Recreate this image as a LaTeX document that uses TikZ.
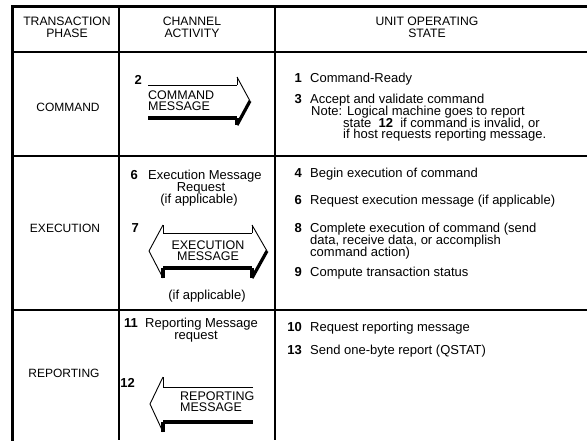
\documentclass[tikz,border=0pt]{standalone}
\usepackage{fontspec}
\setmainfont{Liberation Sans}
\usepackage{tikz}
\pgfdeclarelayer{edgelayer}
\pgfdeclarelayer{nodelayer}
\pgfsetlayers{edgelayer,nodelayer,main}
\tikzstyle{none}=[inner sep=0pt]
\tikzstyle{Header Text}=[align=center, inner sep=0pt, font=\fontsize{12.2}{11.6}\selectfont]
\tikzstyle{Phase Text}=[inner sep=0pt, text height=8.6pt, text depth=0pt, font=\fontsize{12}{11}\selectfont]
\tikzstyle{Step Number}=[anchor=east, inner sep=0pt, text height=9.3pt, text depth=0pt, font=\fontsize{13}{11.7}\selectfont\bfseries]
\tikzstyle{Body Text}=[anchor=west, inner sep=0pt, text height=9.3pt, text depth=0pt, font=\fontsize{13}{11.7}\selectfont]
\tikzstyle{Centred Text}=[inner sep=0pt, text height=9.3pt, text depth=0pt, font=\fontsize{13}{11.7}\selectfont]
\tikzstyle{Arrow Text}=[align=left, inner sep=0pt, font=\fontsize{12.5}{11.2}\selectfont]
\tikzstyle{Frame Rule}=[-, draw=black, line width=3pt, line cap=rect]
\tikzstyle{Row Rule}=[-, draw=black, line width=1.7pt]
\tikzstyle{Column Rule}=[-, draw=black, line width=1.2pt]
\tikzstyle{Arrow Edge}=[-, draw=black, line width=0.9pt]
\tikzstyle{Arrow Shadow}=[-, draw=black, line width=3.2pt]

\begin{document}
\begin{tikzpicture}[x=1pt, y=-1pt]
	\useasboundingbox (0, 0) rectangle (587, 440);
	\begin{pgfonlayer}{nodelayer}
		\node [style=Header Text] (0) at (67, 27.5) {TRANSACTION\\PHASE};
		\node [style=Header Text] (1) at (192, 27.5) {CHANNEL\\ACTIVITY};
		\node [style=Header Text] (2) at (427, 27.5) {UNIT OPERATING\\STATE};
		\node [style=Phase Text] (3) at (68, 107) {COMMAND};
		\node [style=Phase Text] (4) at (65, 228) {EXECUTION};
		\node [style=Phase Text] (5) at (64, 373) {REPORTING};
		\node [style=Step Number] (6) at (142, 80) {2};
		\node [style=Arrow Text, anchor=west] (7) at (148, 100.5) {COMMAND\\MESSAGE};
		\node [style=Step Number] (8) at (138, 175) {6};
		\node [style=Body Text] (9) at (148, 175) {Execution Message};
		\node [style=Centred Text] (10) at (201, 187) {Request};
		\node [style=Centred Text] (11) at (199, 198.5) {(if applicable)};
		\node [style=Step Number] (12) at (139, 228) {7};
		\node [style=Arrow Text, align=center] (13) at (208, 251) {EXECUTION\\MESSAGE};
		\node [style=Centred Text] (14) at (207, 295) {(if applicable)};
		\node [style=Step Number] (15) at (138, 323) {11};
		\node [style=Body Text] (16) at (145, 323) {Reporting Message};
		\node [style=Centred Text] (17) at (196, 334.5) {request};
		\node [style=Step Number] (18) at (135, 383) {12};
		\node [style=Arrow Text, anchor=west] (19) at (180, 401.5) {REPORTING\\MESSAGE};
		\node [style=Step Number] (20) at (302, 78) {1};
		\node [style=Body Text] (21) at (310, 78) {Command-Ready};
		\node [style=Step Number] (22) at (302, 99) {3};
		\node [style=Body Text] (23) at (310, 99) {Accept and validate command};
		\node [style=Body Text] (24) at (311, 111) {Note: Logical machine goes to report};
		\node [style=Body Text] (25) at (343, 122.5) {state \ \textbf{12} \ if command is invalid, or};
		\node [style=Body Text] (26) at (343, 134) {if host requests reporting message.};
		\node [style=Step Number] (27) at (302, 173) {4};
		\node [style=Body Text] (28) at (310, 173) {Begin execution of command};
		\node [style=Step Number] (29) at (302, 200) {6};
		\node [style=Body Text] (30) at (310, 200) {Request execution message (if applicable)};
		\node [style=Step Number] (31) at (302, 227.5) {8};
		\node [style=Body Text] (32) at (310, 227.5) {Complete execution of command (send};
		\node [style=Body Text] (33) at (310, 239.5) {data, receive data, or accomplish};
		\node [style=Body Text] (34) at (310, 251.5) {command action)};
		\node [style=Step Number] (35) at (302, 272) {9};
		\node [style=Body Text] (36) at (310, 272) {Compute transaction status};
		\node [style=Step Number] (37) at (302, 327) {10};
		\node [style=Body Text] (38) at (310, 327) {Request reporting message};
		\node [style=Step Number] (39) at (302, 350) {13};
		\node [style=Body Text] (40) at (310, 350) {Send one-byte report (QSTAT)};
		\node [style=none] (41) at (12, 6) {};
		\node [style=none] (42) at (587, 6) {};
		\node [style=none] (43) at (12, 440) {};
		\node [style=none] (44) at (12, 52) {};
		\node [style=none] (45) at (587, 52) {};
		\node [style=none] (46) at (12, 156) {};
		\node [style=none] (47) at (587, 156) {};
		\node [style=none] (48) at (12, 310) {};
		\node [style=none] (49) at (587, 310) {};
		\node [style=none] (50) at (119, 6) {};
		\node [style=none] (51) at (119, 440) {};
		\node [style=none] (52) at (275, 6) {};
		\node [style=none] (53) at (275, 440) {};
		\node [style=none] (54) at (148, 85) {};
		\node [style=none] (55) at (237, 85) {};
		\node [style=none] (56) at (237, 77) {};
		\node [style=none] (57) at (250, 101) {};
		\node [style=none] (58) at (237, 125) {};
		\node [style=none] (59) at (237, 118) {};
		\node [style=none] (60) at (148, 118) {};
		\node [style=none] (61) at (149, 251) {};
		\node [style=none] (62) at (163, 225) {};
		\node [style=none] (63) at (163, 233) {};
		\node [style=none] (64) at (252, 233) {};
		\node [style=none] (65) at (252, 225) {};
		\node [style=none] (66) at (267, 251) {};
		\node [style=none] (67) at (252, 278) {};
		\node [style=none] (68) at (252, 268) {};
		\node [style=none] (69) at (163, 268) {};
		\node [style=none] (70) at (163, 278) {};
		\node [style=none] (71) at (150, 404) {};
		\node [style=none] (72) at (163, 377) {};
		\node [style=none] (73) at (163, 387) {};
		\node [style=none] (74) at (253, 387) {};
		\node [style=none] (75) at (163, 432) {};
		\node [style=none] (76) at (163, 422) {};
		\node [style=none] (77) at (253, 422) {};
	\end{pgfonlayer}
	\begin{pgfonlayer}{edgelayer}
		\fill [white] (0, 0) rectangle (587, 440);
		\draw [style=Frame Rule] (41.center) to (42.center);
		\draw [style=Frame Rule] (41.center) to (43.center);
		\draw [style=Row Rule] (44.center) to (45.center);
		\draw [style=Row Rule] (46.center) to (47.center);
		\draw [style=Row Rule] (48.center) to (49.center);
		\draw [style=Column Rule] (50.center) to (51.center);
		\draw [style=Column Rule] (52.center) to (53.center);
		\draw [style=Arrow Edge] (54.center) to (55.center);
		\draw [style=Arrow Edge] (55.center) to (56.center);
		\draw [style=Arrow Edge] (56.center) to (57.center);
		\draw [style=Arrow Shadow] (57.center) to (58.center);
		\draw [style=Arrow Shadow] (58.center) to (59.center);
		\draw [style=Arrow Shadow] (59.center) to (60.center);
		\draw [style=Arrow Edge] (61.center) to (62.center);
		\draw [style=Arrow Edge] (62.center) to (63.center);
		\draw [style=Arrow Edge] (63.center) to (64.center);
		\draw [style=Arrow Edge] (64.center) to (65.center);
		\draw [style=Arrow Edge] (65.center) to (66.center);
		\draw [style=Arrow Shadow] (66.center) to (67.center);
		\draw [style=Arrow Shadow] (67.center) to (68.center);
		\draw [style=Arrow Shadow] (68.center) to (69.center);
		\draw [style=Arrow Shadow] (69.center) to (70.center);
		\draw [style=Arrow Edge] (70.center) to (61.center);
		\draw [style=Arrow Edge] (74.center) to (73.center);
		\draw [style=Arrow Edge] (73.center) to (72.center);
		\draw [style=Arrow Edge] (72.center) to (71.center);
		\draw [style=Arrow Edge] (71.center) to (75.center);
		\draw [style=Arrow Shadow] (75.center) to (76.center);
		\draw [style=Arrow Shadow] (76.center) to (77.center);
	\end{pgfonlayer}
\end{tikzpicture}
\end{document}
